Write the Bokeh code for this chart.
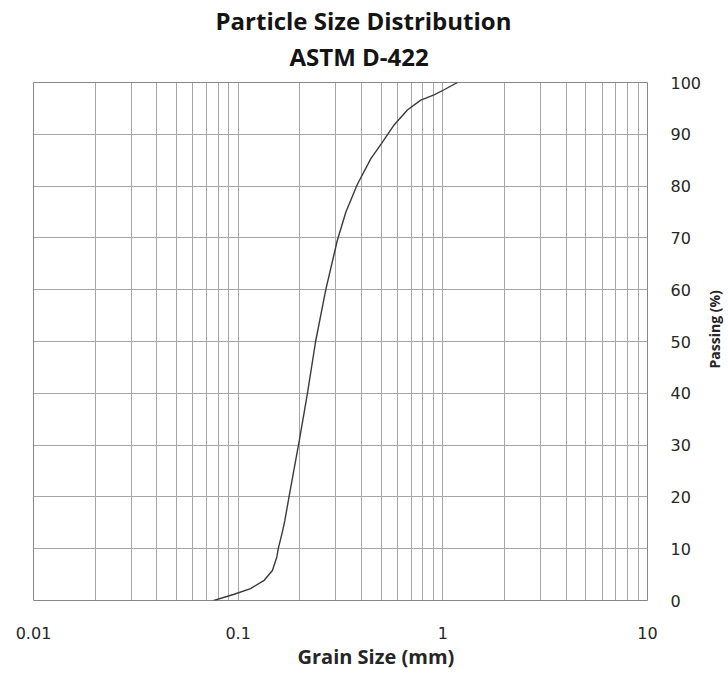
import math
from bokeh.plotting import figure
from bokeh.models import FixedTicker, Title, Label
from bokeh.embed import file_html
from bokeh.resources import INLINE

# ---- data ----
grain_size_mm = [0.076, 0.0956, 0.115, 0.134, 0.147, 0.1545, 0.157, 0.165, 0.169,
                 0.177, 0.199, 0.218, 0.239, 0.268, 0.305, 0.336, 0.383, 0.445,
                 0.507, 0.578, 0.671, 0.780, 0.906, 1.014, 1.18]
passing_pct = [0, 1.2, 2.3, 3.9, 5.8, 8.4, 10, 13.5, 15.4,
               19.9, 30.9, 40, 50, 60, 69.5, 75, 80.4, 85.3,
               88.5, 91.8, 94.7, 96.6, 97.6, 98.6, 100]

x_ticks = [0.01, 0.1, 1, 10]
x_tick_labels = ["0.01", "0.1", "1", "10"]
y_ticks = [0, 10, 20, 30, 40, 50, 60, 70, 80, 90, 100]

title_line1 = "Particle Size Distribution"
title_line2 = "ASTM D-422"
x_label = "Grain Size (mm)"
y_label = "Passing  (%)"

x_minor = [m * 10.0 ** e for e in (-2, -1, 0) for m in range(2, 10)]

GRID = "#a6a6a6"
TXT = "#262626"
TFONT = "Open Sans"

p = figure(x_axis_type="log", x_range=(0.01, 10), y_range=(0, 100),
           frame_width=614, frame_height=518,
           min_border_left=33, min_border_right=81, min_border_top=82, min_border_bottom=75,
           output_backend="svg", toolbar_location=None, y_axis_location="right",
           title=None)

p.add_layout(Title(text=title_line2, align="left", offset=256, text_font=TFONT,
                   text_font_size="24px", text_font_style="bold", text_color="#141414",
                   standoff=19), "above")
p.add_layout(Title(text=title_line1, align="left", offset=182, text_font=TFONT,
                   text_font_size="24px", text_font_style="bold", text_color="#141414",
                   standoff=-16), "above")

p.line(grain_size_mm, passing_pct, line_color="#3a3a3a", line_width=1.4)

p.outline_line_color = "#868686"
p.outline_line_width = 1

# x axis
xa = p.xaxis[0]
xa.ticker = FixedTicker(ticks=x_ticks, minor_ticks=x_minor)
xa.major_label_overrides = {v: s for v, s in zip(x_ticks, x_tick_labels)}
xa.axis_line_color = None
xa.major_tick_out = 0
xa.major_tick_in = 0
xa.minor_tick_out = 0
xa.minor_tick_in = 0
xa.major_label_standoff = 26
xa.major_label_text_font = "DejaVu Sans"
xa.major_label_text_font_size = "16px"
xa.major_label_text_color = TXT

# x axis title placed like the reference (offset to the right of centre)
p.add_layout(Title(text=x_label, align="left", offset=264, text_font=TFONT,
                   text_font_size="20px", text_font_style="bold", text_color=TXT,
                   standoff=-1), "below")

# y axis (right)
ya = p.yaxis[0]
ya.ticker = FixedTicker(ticks=y_ticks)
ya.axis_line_color = None
ya.major_tick_out = 0
ya.major_tick_in = 0
ya.minor_tick_out = 0
ya.minor_tick_in = 0
ya.major_label_standoff = 23
ya.major_label_text_font = "DejaVu Sans"
ya.major_label_text_font_size = "16px"
ya.major_label_text_color = TXT

# y axis title in the right-hand panel, reading bottom-to-top
p.add_layout(Label(text=y_label, x=10, y=273, x_units="screen", y_units="screen",
                   angle=math.pi / 2, text_align="center", text_baseline="middle",
                   text_font=TFONT, text_font_size="14px", text_font_style="bold",
                   text_color=TXT), "right")

# grids
p.xgrid.grid_line_color = GRID
p.xgrid.minor_grid_line_color = GRID
p.ygrid.grid_line_color = GRID

open("out.html", "w").write(file_html(p, INLINE))
